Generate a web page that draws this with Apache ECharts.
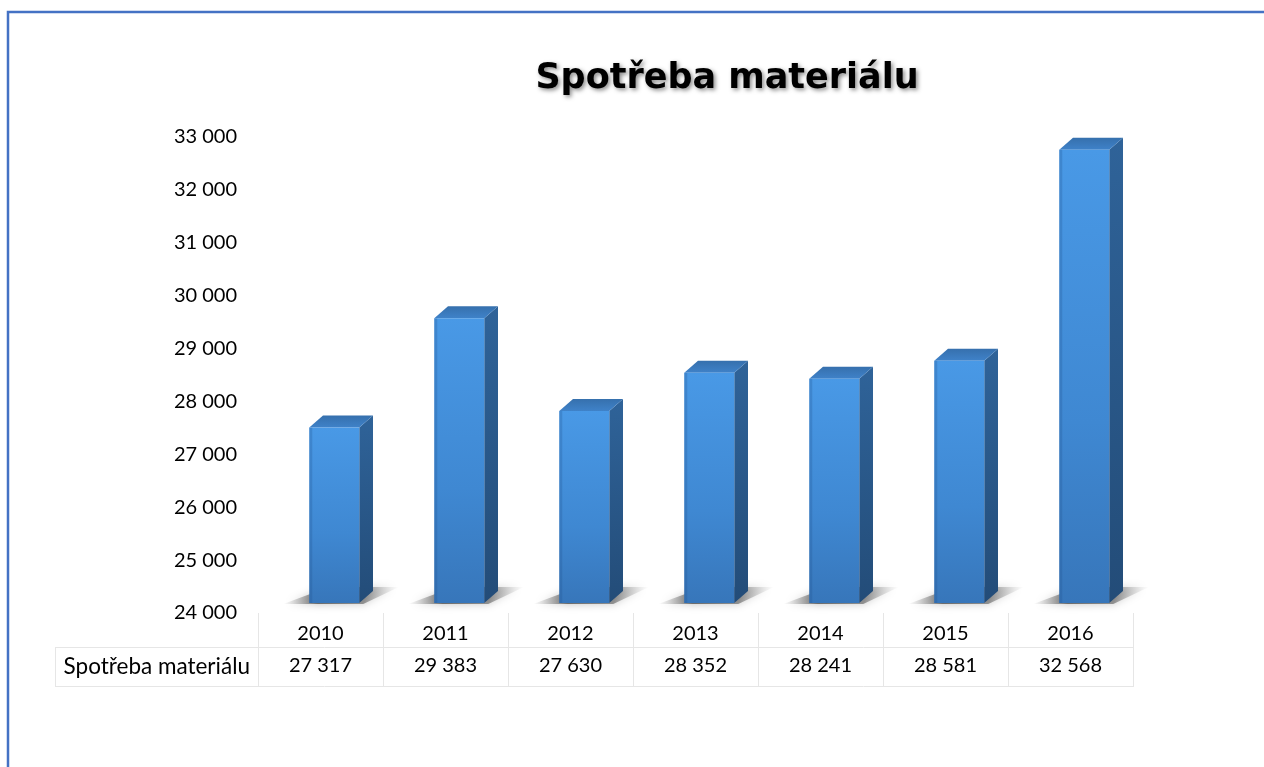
<!DOCTYPE html>
<html>
<head>
<meta charset="utf-8">
<script src="https://cdn.jsdelivr.net/npm/echarts@6/dist/echarts.min.js"></script>
<style>
html,body{margin:0;padding:0;background:#fff;}
#chart{width:1264px;height:767px;}
</style>
</head>
<body>
<div id="chart"></div>
<script>
const titleText = 'Spotřeba materiálu';
const seriesName = 'Spotřeba materiálu';
const categories = ['2010', '2011', '2012', '2013', '2014', '2015', '2016'];
const values = [27317, 29383, 27630, 28352, 28241, 28581, 32568];
const yMin = 24000, yMax = 33000, yStep = 1000;

function fmt(n) { return String(n).replace(/\B(?=(\d{3})+(?!\d))/g, ' '); }

const chart = echarts.init(document.getElementById('chart'), null, {renderer: 'canvas'});
const FONT = 'Lato';

const option = {
  backgroundColor: '#ffffff',
  animation: false,
  title: {
    text: titleText,
    left: 722,
    textAlign: 'center',
    top: 56,
    textStyle: {
      fontFamily: 'DejaVu Sans', fontWeight: 'bold', fontSize: 35, color: '#000',
      textShadowColor: 'rgba(0,0,0,0.45)', textShadowBlur: 4, textShadowOffsetX: 2, textShadowOffsetY: 2
    }
  },
  grid: {left: 258, right: 131, top: 137, bottom: 154, containLabel: false},
  xAxis: [
    {
      type: 'category', data: categories, position: 'bottom',
      axisLine: {show: false},
      axisTick: {show: true, length: 74, lineStyle: {color: '#e6e6e6', width: 1}},
      axisLabel: {margin: 11, fontFamily: FONT, fontSize: 20, color: '#000'}
    },
    {
      type: 'category', data: categories, position: 'bottom',
      axisLine: {show: false}, axisTick: {show: false},
      axisLabel: {margin: 43, fontFamily: FONT, fontSize: 20, color: '#000',
        formatter: function (v, i) { return fmt(values[i]); }}
    }
  ],
  yAxis: {
    type: 'value', min: yMin, max: yMax, interval: yStep,
    axisLine: {show: false}, axisTick: {show: false}, splitLine: {show: false},
    axisLabel: {margin: 21, fontFamily: FONT, fontSize: 20, color: '#000', formatter: function (v) { return fmt(v); }}
  },
  graphic: [
    {type: 'rect', shape: {x: 8, y: 12, width: 1400, height: 900}, style: {fill: null, stroke: '#4472c4', lineWidth: 2.5}, silent: true},
    {type: 'line', shape: {x1: 55, y1: 647.5, x2: 1133, y2: 647.5}, style: {stroke: '#e6e6e6', lineWidth: 1}},
    {type: 'line', shape: {x1: 55, y1: 686.5, x2: 1133, y2: 686.5}, style: {stroke: '#e6e6e6', lineWidth: 1}},
    {type: 'line', shape: {x1: 55.5, y1: 647, x2: 55.5, y2: 687}, style: {stroke: '#e6e6e6', lineWidth: 1}},
    {type: 'text', x: 250, y: 667, style: {text: seriesName, fontFamily: FONT, fontSize: 22.5, fill: '#000', textAlign: 'right', textVerticalAlign: 'middle'}}
  ],
  series: [{
    type: 'custom',
    name: seriesName,
    data: values.map(function (v, i) { return [i, v]; }),
    renderItem: function (params, api) {
      const idx = api.value(0);
      const v = api.value(1);
      const top = api.coord([idx, v]);
      const base = api.coord([idx, yMin]);
      const bw = api.size([1, 0])[0];
      const c = top[0];
      const xl = c - bw * 0.09;
      const xr = xl + bw * 0.40;
      const dx = bw * 0.11, dy = 12;
      const yt = top[1] - 10;
      const yb = base[1] - 10;
      return {
        type: 'group',
        children: [
          { // floor shadow
            type: 'polygon',
            shape: {points: [[xl - 26, yb + 1], [xr + 4, yb + 1], [xr + dx + 26, yb - dy - 4], [xl + dx + 6, yb - dy - 4]]},
            style: {
              fill: new echarts.graphic.LinearGradient(0, 0, 1, 0, [
                {offset: 0, color: 'rgba(120,120,120,0)'},
                {offset: 0.3, color: 'rgba(70,70,70,0.75)'},
                {offset: 0.7, color: 'rgba(90,90,90,0.6)'},
                {offset: 1, color: 'rgba(160,160,160,0)'}
              ]),
              shadowBlur: 8, shadowColor: 'rgba(0,0,0,0.35)'
            }
          },
          { // side face
            type: 'polygon',
            shape: {points: [[xr, yt], [xr + dx, yt - dy], [xr + dx, yb - dy], [xr, yb]]},
            style: {
              fill: new echarts.graphic.LinearGradient(0, 0, 0, 1, [
                {offset: 0, color: '#2f6399'},
                {offset: 1, color: '#234c78'}
              ])
            }
          },
          { // top face
            type: 'polygon',
            shape: {points: [[xl, yt], [xr, yt], [xr + dx, yt - dy], [xl + dx, yt - dy]]},
            style: {
              fill: new echarts.graphic.LinearGradient(0, 1, 0, 0, [
                {offset: 0, color: '#3f82c9'},
                {offset: 1, color: '#3670ad'}
              ])
            }
          },
          { // front face
            type: 'rect',
            shape: {x: xl, y: yt, width: xr - xl, height: yb - yt},
            style: {
              fill: new echarts.graphic.LinearGradient(0, 0, 0, 1, [
                {offset: 0, color: '#4999e6'},
                {offset: 0.6, color: '#3f88d2'},
                {offset: 1, color: '#3776ba'}
              ])
            }
          },
          { // left bevel highlight
            type: 'rect',
            shape: {x: xl, y: yt, width: 3, height: yb - yt},
            style: {fill: 'rgba(30,80,140,0.25)'}
          }
        ]
      };
    }
  }]
};
chart.setOption(option);
</script>
</body>
</html>
